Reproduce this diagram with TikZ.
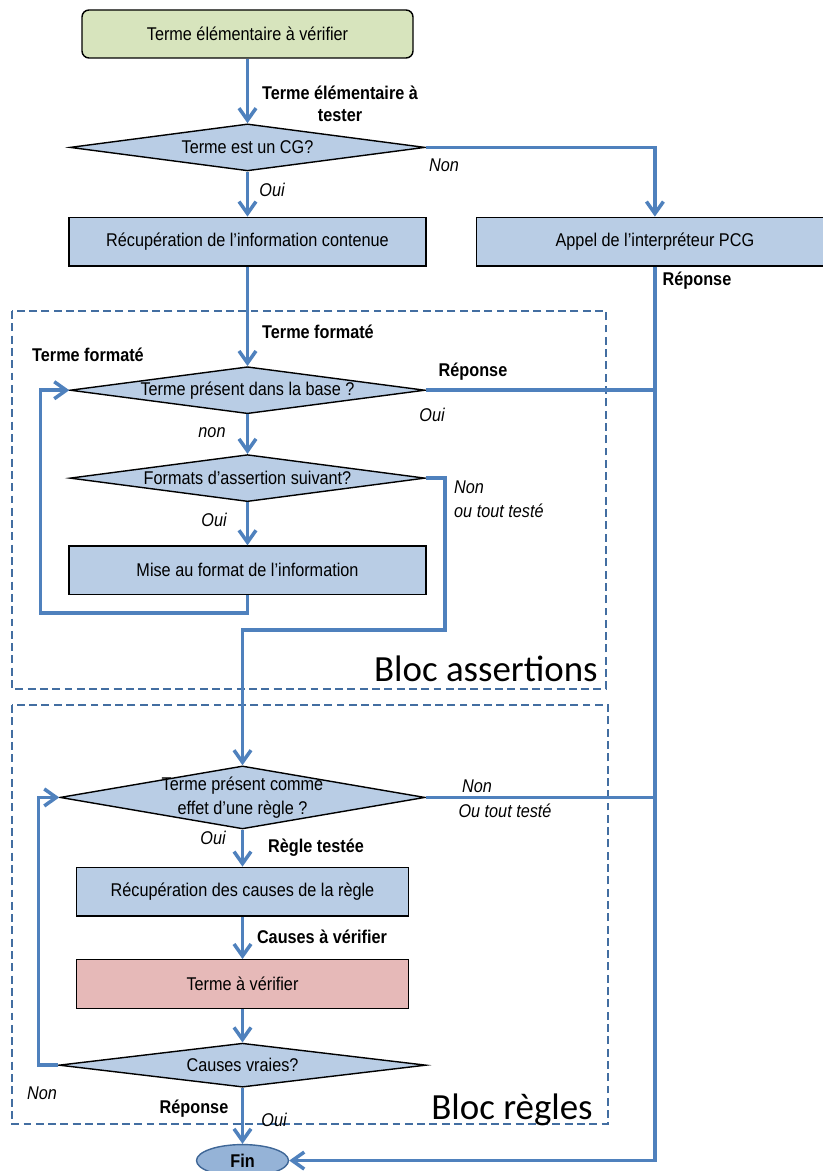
\documentclass[tikz,border=0pt]{standalone}
\usepackage{fontspec}
\setmainfont[FakeStretch=0.88]{Liberation Sans}
\newfontfamily\blocfont{Carlito}
\usetikzlibrary{shapes.geometric, arrows.meta, positioning}
\definecolor{flowblue}{HTML}{4F81BD}
\definecolor{boxblue}{HTML}{B9CDE5}
\definecolor{boxgreen}{HTML}{D7E4BD}
\definecolor{boxpink}{HTML}{E6B9B8}
\definecolor{finblue}{HTML}{95B3D7}

\begin{document}
\begin{tikzpicture}[
    box/.style={rectangle, draw, line width=0.8pt, fill=boxblue, minimum width=7.14cm, minimum height=0.97cm, align=center, font=\fontsize{10.5}{12.5}\selectfont},
    decision/.style={diamond, aspect=7.5, draw, line width=0.8pt, fill=boxblue, minimum width=7.1cm, minimum height=0.94cm, inner sep=0pt, font=\fontsize{10.5}{12.5}\selectfont},
    arrow/.style={-{Straight Barb[length=2.4mm, width=3.4mm]}, line width=2pt, draw=flowblue},
    link/.style={line width=2pt, draw=flowblue},
    tag/.style={font=\fontsize{10.5}{12.5}\selectfont\bfseries, align=center},
    answer/.style={font=\fontsize{10.5}{12.5}\selectfont\itshape},
    block/.style={dashed, dash pattern=on 4.5pt off 2.5pt, line width=1.1pt, draw=flowblue!85!black},
    blocktitle/.style={font=\blocfont\fontsize{21}{24}\selectfont, inner sep=0pt}
]
    \useasboundingbox (0,0) rectangle (16.44,-23.42);

    % dashed blocks
    \draw[block] (0.24,-6.22) rectangle (12.12,-13.78);
    \node[blocktitle, anchor=base east] (tassert) at (11.96,-13.62) {Bloc assertions};
    \draw[block] (0.24,-14.1) rectangle (12.16,-22.48);
    \node[blocktitle, anchor=base east] (tregles) at (11.86,-22.38) {Bloc règles};

    % nodes
    \node[box, fill=boxgreen, rounded corners=4pt, minimum width=6.62cm, minimum height=0.96cm] (start) at (4.95,-0.68) {Terme élémentaire à vérifier};
    \node[decision, below=1.29cm of start] (cg) {Terme est un CG?};
    \node[box, below=0.9cm of cg] (info) {Récupération de l’information contenue};
    \node[box, right=0.98cm of info] (pcg) {Appel de l’interpréteur PCG};
    \node[decision, below=1.99cm of info] (base) {Terme présent dans la base ?};
    \node[decision, below=0.79cm of base] (fmt) {Formats d’assertion suivant?};
    \node[box, below=0.86cm of fmt] (mise) {Mise au format de l’information};
    \node[decision, aspect=5.8, minimum width=7.3cm, minimum height=1.26cm, below=3.4cm of mise, xshift=-0.1cm,
          label={[align=center, font=\fontsize{10.5}{14}\selectfont]center:Terme présent comme\\effet d’une règle ?}] (regle) {};
    \node[box, minimum width=6.64cm, below=0.74cm of regle] (causes) {Récupération des causes de la règle};
    \node[box, minimum width=6.64cm, fill=boxpink, below=0.85cm of causes] (verif) {Terme à vérifier};
    \node[decision, aspect=8.3, minimum width=7.34cm, minimum height=0.88cm, below=0.67cm of verif] (vraies) {Causes vraies?};
    \node[ellipse, draw=flowblue!80!black, line width=0.8pt, fill=finblue, minimum width=1.84cm, minimum height=0.64cm, inner sep=0pt, font=\fontsize{10.5}{12.5}\selectfont\bfseries, below=1.12cm of vraies] (fin) {Fin};
    \coordinate (jump) at (8.9,-12.6);

    % connectors
    \draw[arrow] (start) -- (cg);
    \draw[arrow] (cg) -- (info);
    \draw[arrow] (cg.east) -| (pcg.north);
    \draw[arrow] (info) -- (base);
    \draw[arrow] (pcg.south) |- (fin.east);
    \draw[link] (base.east) -- (base.east -| pcg.south);
    \draw[arrow] (base) -- (fmt);
    \draw[arrow] (fmt) -- (mise);
    \draw[arrow] (mise.south) -- ++(0,-0.36) -| ([xshift=-0.58cm]base.west) -- (base.west);
    \draw[arrow] (fmt.east) -| (jump) -| (regle.north);
    \draw[link] (regle.east) -- (regle.east -| pcg.south);
    \draw[arrow] (regle) -- (causes);
    \draw[arrow] (causes) -- (verif);
    \draw[arrow] (verif) -- (vraies);
    \draw[arrow] (vraies.west) -- ++(-0.4,0) |- (regle.west);
    \draw[arrow] (vraies) -- (fin);

    % labels
    \node[tag] (ltester) at (6.8,-2.08) {Terme élémentaire à\\tester};
    \node[answer] (lnon1) at (8.88,-3.3) {Non};
    \node[answer] (loui1) at (5.44,-3.8) {Oui};
    \node[tag] (lrep1) at (13.94,-5.62) {Réponse};
    \node[tag] (lform1) at (6.36,-6.64) {Terme formaté};
    \node[tag] (lform2) at (1.76,-7.1) {Terme formaté};
    \node[tag] (lrep2) at (9.46,-7.44) {Réponse};
    \node[answer] (loui2) at (8.64,-8.3) {Oui};
    \node[answer] (lnon2) at (4.24,-8.66) {non};
    \node[answer, anchor=west] (lnon3) at (8.96,-9.74) {Non};
    \node[answer, anchor=west] (ltout1) at (8.96,-10.22) {ou tout testé};
    \node[answer] (loui3) at (4.28,-10.4) {Oui};
    \node[answer] (lnon4) at (9.54,-15.72) {Non};
    \node[answer] (ltout2) at (10.1,-16.22) {Ou tout testé};
    \node[answer] (loui4) at (4.26,-16.76) {Oui};
    \node[tag] (ltestee) at (6.32,-16.96) {Règle testée};
    \node[tag] (lcauses) at (6.44,-18.74) {Causes à vérifier};
    \node[answer] (lnon5) at (0.84,-21.86) {Non};
    \node[tag] (lrep3) at (3.88,-22.18) {Réponse};
    \node[answer] (loui5) at (5.48,-22.4) {Oui};
\end{tikzpicture}
\end{document}
